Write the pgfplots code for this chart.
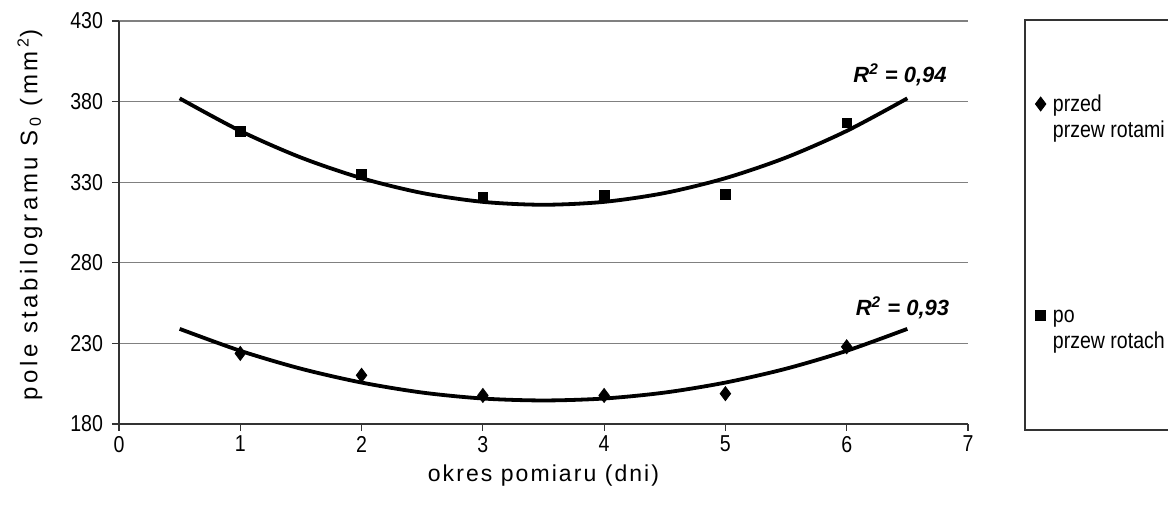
\documentclass[border=0pt]{standalone}
\usepackage{pgfplots}
\pgfplotsset{compat=1.18}
\usepackage{fontspec}
\setmainfont{Liberation Sans}
\newfontfamily\narrow{Liberation Sans}[FakeStretch=0.85]
\newfontfamily\spaced{Liberation Sans}[LetterSpace=9]
\newfontfamily\spacedy{Liberation Sans}[LetterSpace=15]

% punkty pomiarowe
\pgfplotstableread{
x y
1 223.8
2 210.2
3 197.7
4 197.7
5 198.8
6 227.9
}\przed
\pgfplotstableread{
x y
1 361.6
2 334.8
3 320.4
4 321.7
5 322.3
6 366.8
}\po

\begin{document}
\begin{tikzpicture}
\begin{axis}[
    at={(0,0)}, anchor=south west,
    scale only axis,
    width=424.5pt, height=201.5pt,
    xmin=0, xmax=7, ymin=180, ymax=430,
    xtick={0,...,7}, ytick={180,230,...,430},
    axis lines=left,
    axis line style={-, black!80, line width=0.6pt},
    tick align=outside,
    major tick length=3.5pt,
    tick style={black!80, line width=0.6pt},
    ymajorgrids,
    grid style={black!50, line width=0.6pt},
    /pgf/number format/assume math mode=true,
    tick label style={font=\narrow\fontsize{11.5}{13}\selectfont},
    yticklabel style={xshift=-1pt},
    xticklabel style={yshift=1pt},
    xlabel={\spaced\fontsize{11.5}{13}\selectfont okres pomiaru (dni)},
    xlabel style={at={(axis description cs:0.5,-0.127)}, anchor=center},
    ylabel={\spacedy\fontsize{12}{14}\selectfont pole stabilogramu S\,\textsubscript{0} (mm\,\textsuperscript{2})},
    ylabel style={at={(axis description cs:-0.105,0.519)}, anchor=center, rotate=0},
    legend style={at={(458pt,167pt)}, anchor=north west, draw=none, fill=none,
        font=\narrow\fontsize{11.5}{13}\selectfont, row sep=92pt,
        inner sep=0pt, nodes={inner sep=1.5pt}, column sep=2pt},
    legend cell align=left,
    clip=false,
]
\addplot[only marks, mark=diamond*, mark size=3.5pt, black] table {\przed};
\addlegendentry{\begin{tabular}[t]{@{}l@{}}przed\\przew rotami\end{tabular}}
\addplot[only marks, mark=square*, mark size=2.4pt, black] table {\po};
\addlegendentry{\begin{tabular}[t]{@{}l@{}}po\\przew rotach\end{tabular}}

% linie trendu (wielomian 2 stopnia)
\addplot[black, line width=1.9pt, smooth, forget plot] coordinates {
(0.5,239) (1,225.4) (1.5,214.3) (2,205.7) (2.5,199.5) (3,195.8) (3.5,194.6)
(4,195.8) (4.5,199.5) (5,205.7) (5.5,214.3) (6,225.4) (6.5,239)};
\addplot[black, line width=1.9pt, smooth, forget plot] coordinates {
(0.5,382) (1,361.8) (1.5,345.3) (2,332.5) (2.5,323.3) (3,317.8) (3.5,316)
(4,317.8) (4.5,323.3) (5,332.5) (5.5,345.3) (6,361.8) (6.5,382)};

\node[font=\bfseries\itshape\fontsize{11}{13}\selectfont] at (axis cs:6.44,396.7) {R\textsuperscript{2} = 0,94};
\node[font=\bfseries\itshape\fontsize{11}{13}\selectfont] at (axis cs:6.46,252.3) {R\textsuperscript{2} = 0,93};
\end{axis}
% ramka legendy
\draw[black!80, line width=0.6pt] (453pt,-3pt) rectangle (560pt,202pt);
\pgfresetboundingbox
\useasboundingbox (-59.5pt,-49.5pt) rectangle (524.5pt,212pt);
\end{tikzpicture}
\end{document}
